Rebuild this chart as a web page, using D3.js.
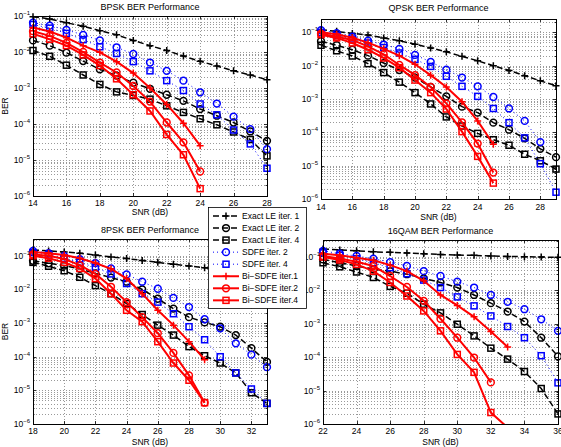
<!DOCTYPE html>
<html>
<head>
<meta charset="utf-8">
<script src="https://cdn.jsdelivr.net/npm/d3@7"></script>
<style>
body { margin: 0; background: #fff; }
text { font-family: "Liberation Sans", Arial, Helvetica, sans-serif; fill: #000; }
</style>
</head>
<body>
<script>
// ---- data (BER) ----
// BPSK
const bpskSnr = [14, 15, 16, 17, 18, 19, 20, 21, 22, 23, 24, 25, 26, 27, 28]
const bpskTicks = [14, 16, 18, 20, 22, 24, 26, 28]
const bpskLE1 = [9.6e-2, 8.3e-2, 6.5e-2, 5.2e-2, 3.9e-2, 3.0e-2, 2.1e-2, 1.5e-2, 1.1e-2, 7.7e-3, 5.5e-3, 4.1e-3, 3.0e-3, 2.3e-3, 1.7e-3]
const bpskLE2 = [2.1e-2, 1.5e-2, 9.6e-3, 5.6e-3, 3.3e-3, 2.2e-3, 1.4e-3, 9.5e-4, 6.5e-4, 4.4e-4, 2.6e-4, 1.7e-4, 1.1e-4, 6.2e-5, 3.4e-5]
const bpskLE4 = [1.1e-2, 7.6e-3, 4.3e-3, 2.3e-3, 1.26e-3, 7.8e-4, 6.2e-4, 4.9e-4, 3.2e-4, 2.1e-4, 1.4e-4, 9.5e-5, 6.0e-5, 3.7e-5, 1.3e-5]
const bpskSDFE2 = [6.5e-2, 5.4e-2, 4.1e-2, 3.0e-2, 2.1e-2, 1.35e-2, 8.8e-3, 5.1e-3, 3.0e-3, 1.6e-3, 7.6e-4, 3.7e-4, 1.6e-4, 7.2e-5, 2.0e-5]
const bpskSDFE4 = [5.8e-2, 4.6e-2, 3.3e-2, 2.2e-2, 1.4e-2, 9.1e-3, 5.4e-3, 3.0e-3, 1.6e-3, 8.5e-4, 3.6e-4, 1.8e-4, 6.8e-5, 2.8e-5, 5.9e-6]
const bpskBi1 = [4.8e-2, 3.7e-2, 2.5e-2, 1.5e-2, 9.8e-3, 5.4e-3, 2.6e-3, 1.0e-3, 3.5e-4, 1.05e-4, 2.5e-5]
const bpskBi2 = [3.8e-2, 2.8e-2, 1.8e-2, 1.0e-2, 5.1e-3, 2.7e-3, 1.14e-3, 4.2e-4, 1.1e-4, 3.1e-5, 4.8e-6]
const bpskBi4 = [3.2e-2, 2.25e-2, 1.5e-2, 8.3e-3, 4.2e-3, 1.8e-3, 6.5e-4, 2.3e-4, 5.1e-5, 1.4e-5, 1.6e-6]

// QPSK
const qpskSnr = [14, 15, 16, 17, 18, 19, 20, 21, 22, 23, 24, 25, 26, 27, 28, 29]
const qpskTicks = [14, 16, 18, 20, 22, 24, 26, 28]
const qpskLE1 = [1.2e-1, 1.07e-1, 9.3e-2, 8.3e-2, 6.8e-2, 5.6e-2, 4.4e-2, 3.4e-2, 2.6e-2, 1.9e-2, 1.4e-2, 1.0e-2, 7.2e-3, 5.0e-3, 3.5e-3, 2.5e-3]
const qpskLE2 = [5.4e-2, 4.1e-2, 3.0e-2, 2.0e-2, 1.2e-2, 7.4e-3, 4.4e-3, 2.3e-3, 1.2e-3, 5.9e-4, 3.9e-4, 1.95e-4, 1.2e-4, 6.6e-5, 3.2e-5, 1.8e-5]
const qpskLE4 = [4.1e-2, 2.8e-2, 1.95e-2, 1.15e-2, 6.2e-3, 3.2e-3, 1.55e-3, 7.1e-4, 2.9e-4, 1.55e-4, 9.3e-5, 6.0e-5, 4.1e-5, 2.2e-5, 1.4e-5, 7.9e-6]
const qpskSDFE2 = [1.17e-1, 9.5e-2, 7.4e-2, 5.6e-2, 4.3e-2, 3.2e-2, 2.1e-2, 1.3e-2, 7.6e-3, 4.4e-3, 2.4e-3, 1.15e-3, 5.2e-4, 2.2e-4, 5.1e-5]
const qpskSDFE4 = [1.0e-1, 8.1e-2, 6.3e-2, 4.8e-2, 3.5e-2, 2.4e-2, 1.55e-2, 9.5e-3, 4.8e-3, 2.4e-3, 1.2e-3, 5.2e-4, 1.95e-4, 6.8e-5, 1.15e-5, 1.6e-6]
const qpskBi1 = [1.0e-1, 8.7e-2, 6.9e-2, 4.9e-2, 3.2e-2, 2.0e-2, 1.1e-2, 5.2e-3, 2.3e-3, 8.3e-4, 2.2e-4, 4.4e-5]
const qpskBi2 = [9.1e-2, 7.4e-2, 5.9e-2, 3.8e-2, 2.2e-2, 1.05e-2, 5.2e-3, 2.3e-3, 7.4e-4, 2.0e-4, 4.6e-5, 6.2e-6]
const qpskBi4 = [8.5e-2, 6.8e-2, 4.8e-2, 3.0e-2, 1.7e-2, 8.7e-3, 3.7e-3, 1.55e-3, 5.0e-4, 1.05e-4, 1.9e-5, 3.0e-6]

// 8PSK
const psk8Snr = [18, 19, 20, 21, 22, 23, 24, 25, 26, 27, 28, 29, 30, 31, 32, 33]
const psk8Ticks = [18, 20, 22, 24, 26, 28, 30, 32]
const psk8LE1 = [1.5e-1, 1.4e-1, 1.3e-1, 1.2e-1, 1.05e-1, 9.3e-2, 8.3e-2, 7.3e-2, 6.4e-2, 5.6e-2, 5.0e-2, 4.4e-2, 4.0e-2, 3.5e-2, 3.2e-2, 2.8e-2]
const psk8LE2 = [7.1e-2, 6.0e-2, 5.1e-2, 4.1e-2, 3.0e-2, 2.25e-2, 1.7e-2, 1.0e-2, 5.3e-3, 2.7e-3, 1.5e-3, 1.05e-3, 7.8e-4, 4.4e-4, 1.8e-4, 7.0e-5]
const psk8LE4 = [6.4e-2, 4.9e-2, 3.6e-2, 2.3e-2, 1.3e-2, 7.5e-3, 3.8e-3, 1.8e-3, 8.7e-4, 4.4e-4, 2.0e-4, 1.07e-4, 6.5e-5, 3.3e-5, 8.5e-6, 4.1e-6]
const psk8SDFE2 = [1.4e-1, 1.2e-1, 1.0e-1, 8.0e-2, 6.1e-2, 4.2e-2, 2.8e-2, 1.7e-2, 1.05e-2, 5.6e-3, 3.0e-3, 1.3e-3, 7.0e-4, 2.5e-4, 1.15e-4, 4.9e-5]
const psk8SDFE4 = [1.25e-1, 1.05e-1, 8.4e-2, 6.4e-2, 4.5e-2, 2.9e-2, 1.5e-2, 7.5e-3, 4.2e-3, 1.9e-3, 7.8e-4, 3.2e-4, 1.0e-4, 3.3e-5, 1.1e-5, 4.1e-6]
const psk8Bi1 = [1.3e-1, 1.2e-1, 1.05e-1, 8.5e-2, 6.1e-2, 4.1e-2, 2.1e-2, 7.5e-3, 2.4e-3, 8.7e-4, 2.8e-4, 8.2e-5]
const psk8Bi2 = [1.1e-1, 1.0e-1, 8.0e-2, 5.3e-2, 2.9e-2, 1.2e-2, 4.2e-3, 1.5e-3, 5.0e-4, 1.3e-4, 2.8e-5, 4.3e-6]
const psk8Bi4 = [1.0e-1, 8.5e-2, 6.4e-2, 4.2e-2, 2.1e-2, 7.5e-3, 2.4e-3, 1.1e-3, 2.8e-4, 6.5e-5, 2.0e-5, 4.3e-6]

// 16QAM
const qamSnr = [22, 23, 24, 25, 26, 27, 28, 29, 30, 31, 32, 33, 34, 35, 36]
const qamTicks = [22, 24, 26, 28, 30, 32, 34, 36]
const qamLE1 = [1.7e-1, 1.6e-1, 1.5e-1, 1.4e-1, 1.35e-1, 1.3e-1, 1.23e-1, 1.17e-1, 1.12e-1, 1.1e-1, 1.05e-1, 1.02e-1, 1.0e-1, 9.8e-2, 9.6e-2]
const qamLE2 = [8.3e-2, 6.6e-2, 5.3e-2, 4.2e-2, 3.7e-2, 3.0e-2, 2.25e-2, 1.7e-2, 1.2e-2, 7.2e-3, 4.1e-3, 2.3e-3, 1.15e-3, 3.8e-4, 1.05e-4]
const qamLE4 = [6.6e-2, 5.0e-2, 3.5e-2, 2.4e-2, 1.3e-2, 8.1e-3, 3.8e-3, 2.1e-3, 9.6e-4, 4.3e-4, 1.85e-4, 8.7e-5, 3.7e-5, 1.15e-5, 2.0e-6]
const qamSDFE2 = [1.5e-1, 1.23e-1, 1.05e-1, 8.7e-2, 6.9e-2, 5.3e-2, 3.7e-2, 2.65e-2, 1.8e-2, 1.2e-2, 7.2e-3, 4.5e-3, 2.7e-3, 1.35e-3, 6.1e-4]
const qamSDFE4 = [1.3e-1, 1.1e-1, 8.7e-2, 6.6e-2, 4.7e-2, 3.1e-2, 2.0e-2, 1.2e-2, 6.3e-3, 3.4e-3, 1.7e-3, 8.2e-4, 3.8e-4, 1.1e-4, 1.7e-5]
const qamBi1 = [1.23e-1, 1.1e-1, 9.3e-2, 7.8e-2, 5.6e-2, 3.7e-2, 1.9e-2, 7.2e-3, 3.5e-3, 1.6e-3, 5.8e-4, 2.0e-4]
const qamBi2 = [1.05e-1, 8.9e-2, 7.1e-2, 5.3e-2, 2.65e-2, 1.25e-2, 4.8e-3, 1.4e-3, 3.8e-4, 9.7e-5, 1.75e-5]
const qamBi4 = [9.8e-2, 8.0e-2, 5.9e-2, 3.7e-2, 1.7e-2, 6.7e-3, 2.4e-3, 6.1e-4, 1.2e-4, 3.5e-5, 2.2e-6, 7.8e-7]

const decades = [1e-1, 1e-2, 1e-3, 1e-4, 1e-5, 1e-6]
const decadeExp = ["−1", "−2", "−3", "−4", "−5", "−6"]
const legendLabels = ["Exact LE iter. 1", "Exact LE iter. 2", "Exact LE iter. 4", "SDFE iter. 2", "SDFE iter. 4",
  "Bi−SDFE iter.1", "Bi−SDFE iter.2", "Bi−SDFE iter.4"]

// ---- styles, one per series (same order as legend) ----
const styles = [
  {color: "#000", dash: "6,3", width: 1.5, marker: "plus"},
  {color: "#000", dash: "6,3", width: 1.5, marker: "circle"},
  {color: "#000", dash: "6,3", width: 1.5, marker: "square"},
  {color: "#0000ff", dash: "1,3", width: 1, marker: "circle"},
  {color: "#0000ff", dash: "1,3", width: 1, marker: "square"},
  {color: "#ff0000", dash: null, width: 2, marker: "plus"},
  {color: "#ff0000", dash: null, width: 2, marker: "circle"},
  {color: "#ff0000", dash: null, width: 2, marker: "square"}
]

const width = 561, height = 447
const svg = d3.select("body").append("svg")
  .attr("width", width)
  .attr("height", height)

const panels = [
  {id: 1, title: "BPSK BER Performance", left: 33, right: 267, top: 16, bottom: 196, xmax: 28, ymax: 1e-1,
   snr: bpskSnr, ticks: bpskTicks, ylabel: true, titleY: 10, tickY: 206, xlabY: 215,
   series: [bpskLE1, bpskLE2, bpskLE4, bpskSDFE2, bpskSDFE4, bpskBi1, bpskBi2, bpskBi4]},
  {id: 2, title: "QPSK BER Performance", left: 321, right: 556, top: 19, bottom: 199, xmax: 29, ymax: Math.pow(10, -0.6),
   snr: qpskSnr, ticks: qpskTicks, ylabel: false, titleY: 11, tickY: 210, xlabY: 220,
   series: [qpskLE1, qpskLE2, qpskLE4, qpskSDFE2, qpskSDFE4, qpskBi1, qpskBi2, qpskBi4]},
  {id: 3, title: "8PSK BER Performance", left: 33, right: 267, top: 239, bottom: 424, xmax: 33, ymax: Math.pow(10, -0.5),
   snr: psk8Snr, ticks: psk8Ticks, ylabel: true, titleY: 233, tickY: 434, xlabY: 445,
   series: [psk8LE1, psk8LE2, psk8LE4, psk8SDFE2, psk8SDFE4, psk8Bi1, psk8Bi2, psk8Bi4]},
  {id: 4, title: "16QAM BER Performance", left: 323, right: 558, top: 240, bottom: 424, xmax: 36, ymax: Math.pow(10, -0.5),
   snr: qamSnr, ticks: qamTicks, ylabel: false, titleY: 234, tickY: 434, xlabY: 445,
   series: [qamLE1, qamLE2, qamLE4, qamSDFE2, qamSDFE4, qamBi1, qamBi2, qamBi4]}
]

// draw a marker of given type into a group
const drawMarker = (g, type, color, cx, cy) => {
  if (type === "circle") {
    g.append("circle").attr("cx", cx).attr("cy", cy).attr("r", 3.4)
      .attr("fill", "none").attr("stroke", color).attr("stroke-width", 1.5)
  } else if (type === "square") {
    g.append("rect").attr("x", cx - 3).attr("y", cy - 3).attr("width", 6).attr("height", 6)
      .attr("fill", "none").attr("stroke", color).attr("stroke-width", 1.5)
  } else {
    g.append("path").attr("d", `M${cx - 3.5},${cy}H${cx + 3.5}M${cx},${cy - 3.5}V${cy + 3.5}`)
      .attr("stroke", color).attr("stroke-width", 1.5)
  }
}

const render = p => {
  const x = d3.scaleLinear().domain([p.snr[0], p.xmax]).range([p.left, p.right])
  const y = d3.scaleLog().domain([1e-6, p.ymax]).range([p.bottom, p.top])
  const g = svg.append("g")

  svg.append("clipPath").attr("id", "clip" + p.id)
    .append("rect")
    .attr("x", p.left).attr("y", p.top)
    .attr("width", p.right - p.left).attr("height", p.bottom - p.top)

  // grid: dotted, x at ticks, y at every log tick
  const grid = g.append("g")
    .attr("stroke", "#999")
    .attr("stroke-width", 1)
    .attr("stroke-dasharray", "1,2")
  grid.selectAll(".gx").data(p.ticks).enter().append("line")
    .attr("x1", d => Math.round(x(d)) + 0.5).attr("x2", d => Math.round(x(d)) + 0.5)
    .attr("y1", p.top).attr("y2", p.bottom)
  grid.selectAll(".gy").data(y.ticks()).enter().append("line")
    .attr("x1", p.left).attr("x2", p.right)
    .attr("y1", d => Math.round(y(d)) + 0.5).attr("y2", d => Math.round(y(d)) + 0.5)

  // ticks inside the box
  const tk = g.append("g").attr("stroke", "#000").attr("stroke-width", 0.8)
  p.ticks.forEach(t => {
    const xx = Math.round(x(t)) + 0.5
    tk.append("line").attr("x1", xx).attr("x2", xx).attr("y1", p.bottom).attr("y2", p.bottom - 3)
    tk.append("line").attr("x1", xx).attr("x2", xx).attr("y1", p.top).attr("y2", p.top + 3)
  })
  y.ticks().forEach(t => {
    const yy = Math.round(y(t)) + 0.5
    const major = decades.includes(t)
    const len = major ? 3 : 1.5
    tk.append("line").attr("x1", p.left).attr("x2", p.left + len).attr("y1", yy).attr("y2", yy)
    tk.append("line").attr("x1", p.right).attr("x2", p.right - len).attr("y1", yy).attr("y2", yy)
  })

  // series
  const line = d3.line().x(d => x(d[0])).y(d => y(d[1]))
  p.series.forEach((s, k) => {
    const st = styles[k]
    const pts = s.map((v, i) => [p.snr[i], v])
    g.append("path")
      .attr("d", line(pts))
      .attr("clip-path", `url(#clip${p.id})`)
      .attr("fill", "none")
      .attr("stroke", st.color)
      .attr("stroke-width", st.width)
      .attr("stroke-dasharray", st.dash)
    const mg = g.append("g")
    pts.filter(d => d[1] >= 1e-6).forEach(d => drawMarker(mg, st.marker, st.color, x(d[0]), y(d[1])))
  })

  // box
  g.append("rect")
    .attr("x", p.left + 0.5).attr("y", p.top + 0.5)
    .attr("width", p.right - p.left).attr("height", p.bottom - p.top)
    .attr("fill", "none").attr("stroke", "#000").attr("stroke-width", 1)

  // x tick labels
  g.selectAll(".xl").data(p.ticks).enter().append("text")
    .attr("x", d => x(d)).attr("y", p.tickY)
    .attr("text-anchor", "middle")
    .style("font-size", "8.5px")
    .text(d => d)

  // y tick labels 10^-k
  decades.forEach((d, i) => {
    const t = g.append("text")
      .attr("x", p.left - 3).attr("y", y(d) + 3)
      .attr("text-anchor", "end")
      .style("font-size", "8.5px")
    t.append("tspan").text("10")
    t.append("tspan").attr("dy", -4).style("font-size", "6px").text(decadeExp[i])
  })

  // axis labels and title
  g.append("text")
    .attr("x", (p.left + p.right) / 2).attr("y", p.xlabY)
    .attr("text-anchor", "middle")
    .style("font-size", "8.5px")
    .text("SNR (dB)")
  if (p.ylabel) {
    g.append("text")
      .attr("transform", `translate(8,${(p.top + p.bottom) / 2}) rotate(-90)`)
      .attr("text-anchor", "middle")
      .style("font-size", "8.5px")
      .text("BER")
  }
  g.append("text")
    .attr("x", (p.left + p.right) / 2).attr("y", p.titleY)
    .attr("text-anchor", "middle")
    .style("font-size", "9px")
    .text(p.title)
}

panels.forEach(render)

// legend box on top, between the panels
const lg = svg.append("g")
lg.append("rect")
  .attr("x", 208.5).attr("y", 207.5).attr("width", 98).attr("height", 101)
  .attr("fill", "#fff").attr("stroke", "#000").attr("stroke-width", 0.8)
legendLabels.forEach((lab, i) => {
  const st = styles[i]
  const yy = 216 + i * 12.05
  lg.append("line")
    .attr("x1", 213).attr("x2", 239).attr("y1", yy).attr("y2", yy)
    .attr("stroke", st.color).attr("stroke-width", st.width)
    .attr("stroke-dasharray", st.dash)
  drawMarker(lg, st.marker, st.color, 226, yy)
  lg.append("text")
    .attr("x", 242).attr("y", yy + 3)
    .style("font-size", "8.5px")
    .text(lab)
})
</script>
</body>
</html>
